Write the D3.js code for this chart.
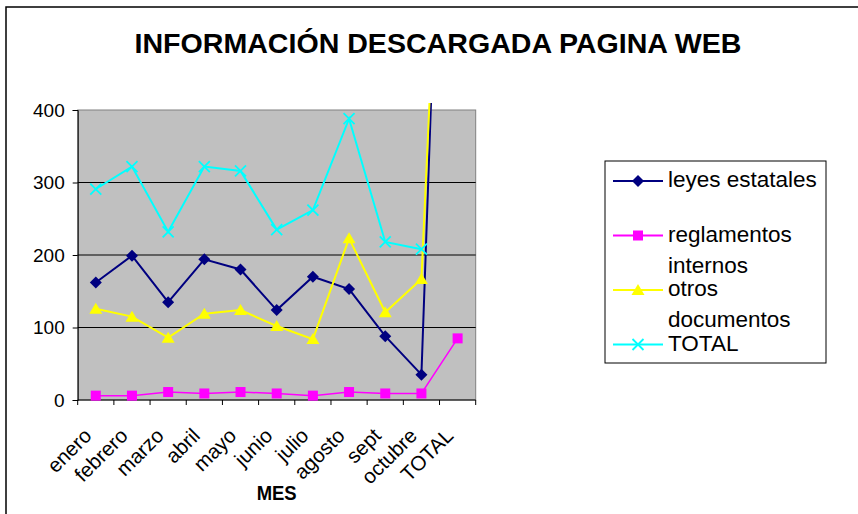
<!DOCTYPE html>
<html>
<head>
<meta charset="utf-8">
<script src="https://cdn.jsdelivr.net/npm/d3@7"></script>
<style>
  body { margin: 0; background: #fff; }
  svg { display: block; font-family: 'Liberation Sans', Arial, sans-serif; }
</style>
</head>
<body>
<div id="chart"></div>
<script>
// datos
let meses = ['enero','febrero','marzo','abril','mayo','junio','julio','agosto','sept','octubre','TOTAL']
let leyes = [162,199,135,194,180,124,170,153,88,35,1450]
let reglamentos = [6,6,11,9,11,9,6,11,9,9,85]
let otros = [126,115,86,119,124,102,84,223,121,167,1260]
let total = [291,322,232,322,316,235,262,388,218,208,null]
let yTicks = [0,100,200,300,400]

let series = [
  {name: ['leyes estatales'], values: leyes, color: '#000080', marker: 'diamond'},
  {name: ['reglamentos','internos'], values: reglamentos, color: '#FF00FF', marker: 'square'},
  {name: ['otros','documentos'], values: otros, color: '#FFFF00', marker: 'triangle'},
  {name: ['TOTAL'], values: total, color: '#00FFFF', marker: 'x'}
]

const W = 858, H = 514
const plot = {left: 77.7, right: 475.7, top: 110, bottom: 400}

let svg = d3.select('#chart').append('svg')
  .attr('width', W).attr('height', H)

// borde exterior
svg.append('rect')
  .attr('x', 6).attr('y', 7).attr('width', 870).attr('height', 530)
  .attr('fill', 'none').attr('stroke', '#000').attr('stroke-width', 1.5)

svg.append('text')
  .attr('x', 438).attr('y', 53)
  .attr('text-anchor', 'middle')
  .attr('font-size', 28).attr('font-weight', 'bold')
  .attr('textLength', 607).attr('lengthAdjust', 'spacingAndGlyphs')
  .text('INFORMACIÓN DESCARGADA PAGINA WEB')

let x = d3.scaleBand().domain(meses).range([plot.left, plot.right]).padding(0)
let y = d3.scaleLinear().domain([0, 400]).range([plot.bottom, plot.top])
let cx = d => x(d) + x.bandwidth() / 2

// area de trazado
svg.append('rect')
  .attr('x', plot.left).attr('y', plot.top)
  .attr('width', plot.right - plot.left).attr('height', plot.bottom - plot.top)
  .attr('fill', '#C0C0C0').attr('stroke', '#808080').attr('stroke-width', 1)

svg.append('g')
  .selectAll('line')
  .data(yTicks.filter(t => t > 0 && t < 400))
  .enter().append('line')
  .attr('x1', plot.left).attr('x2', plot.right)
  .attr('y1', d => y(d)).attr('y2', d => y(d))
  .attr('stroke', '#000').attr('stroke-width', 1)

// eje y
let yAxis = svg.append('g')
  .attr('transform', 'translate(' + plot.left + ',0)')
  .call(d3.axisLeft(y).tickValues(yTicks).tickSize(5).tickPadding(8))
yAxis.select('.domain').attr('stroke', '#000')
yAxis.selectAll('text').attr('font-size', 19).attr('fill', '#000')
  .attr('font-family', "'Liberation Sans', Arial, sans-serif")

// eje x: marcas en los bordes de cada categoria
svg.append('line')
  .attr('x1', plot.left).attr('x2', plot.right)
  .attr('y1', plot.bottom).attr('y2', plot.bottom)
  .attr('stroke', '#000')

let edges = meses.map(m => x(m)).concat([x(meses[meses.length - 1]) + x.bandwidth()])
svg.append('g').selectAll('line')
  .data(edges).enter().append('line')
  .attr('x1', d => d).attr('x2', d => d)
  .attr('y1', plot.bottom).attr('y2', plot.bottom + 5)
  .attr('stroke', '#000')

svg.append('g').selectAll('text')
  .data(meses).enter().append('text')
  .attr('transform', d => 'translate(' + (cx(d) - 3) + ',' + 437 + ') rotate(-45)')
  .attr('text-anchor', 'end')
  .attr('font-size', 20.5)
  .text(d => d)

svg.append('text')
  .attr('x', (plot.left + plot.right) / 2).attr('y', 500)
  .attr('text-anchor', 'middle')
  .attr('font-size', 20).attr('font-weight', 'bold')
  .attr('textLength', 40).attr('lengthAdjust', 'spacingAndGlyphs')
  .text('MES')

// recorte: las lineas salen un poco por encima del area
svg.append('clipPath').attr('id', 'clip')
  .append('rect')
  .attr('x', plot.left).attr('y', plot.top - 7)
  .attr('width', plot.right - plot.left + 10).attr('height', plot.bottom - plot.top + 12)

function drawMarker(g, type, color) {
  if (type === 'diamond') {
    g.append('path').attr('d', 'M0,-6L6,0L0,6L-6,0Z').attr('fill', color)
  } else if (type === 'square') {
    g.append('rect').attr('x', -5).attr('y', -5).attr('width', 10).attr('height', 10).attr('fill', color)
  } else if (type === 'triangle') {
    g.append('path').attr('d', 'M0,-6L6.5,5L-6.5,5Z').attr('fill', color)
  } else {
    g.append('path').attr('d', 'M-5.5,-5.5L5.5,5.5M-5.5,5.5L5.5,-5.5')
      .attr('stroke', color).attr('stroke-width', 1.8).attr('fill', 'none')
  }
}

let lineGen = d3.line()
  .defined(d => d.v !== null)
  .x(d => cx(d.m))
  .y(d => y(d.v))

let linesG = svg.append('g').attr('clip-path', 'url(#clip)')

series.forEach(s => {
  let pts = meses.map((m, i) => ({m: m, v: s.values[i]}))
  linesG.append('path')
    .datum(pts)
    .attr('d', lineGen)
    .attr('fill', 'none')
    .attr('stroke', s.color)
    .attr('stroke-width', s.marker === 'square' ? 1.5 : 2)

  pts.filter(p => p.v !== null).forEach(p => {
    let g = linesG.append('g').attr('transform', 'translate(' + cx(p.m) + ',' + y(p.v) + ')')
    drawMarker(g, s.marker, s.color)
  })
})

// leyenda
let legend = svg.append('g')
legend.append('rect')
  .attr('x', 605).attr('y', 161).attr('width', 221).attr('height', 202)
  .attr('fill', '#fff').attr('stroke', '#000').attr('stroke-width', 1)

series.forEach((s, i) => {
  let my = 181 + i * 54.5
  legend.append('line')
    .attr('x1', 613).attr('x2', 663).attr('y1', my).attr('y2', my)
    .attr('stroke', s.color).attr('stroke-width', 2)
  let g = legend.append('g').attr('transform', 'translate(638,' + my + ')')
  drawMarker(g, s.marker, s.color)
  s.name.forEach((t, j) => {
    legend.append('text')
      .attr('x', 668).attr('y', my + 6 + j * 31)
      .attr('font-size', 22.5)
      .text(t)
  })
})
</script>
</body>
</html>
